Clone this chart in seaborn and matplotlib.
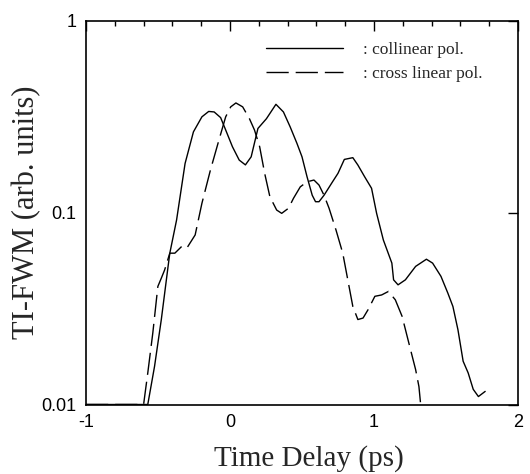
import numpy as np
import pandas as pd
import matplotlib
matplotlib.use("Agg")
import matplotlib.pyplot as plt
import seaborn as sns
from matplotlib.ticker import FixedLocator, MultipleLocator, NullLocator, FixedFormatter

# ---- data ----
collinear_x = [-1.0, -0.571, -0.524, -0.477, -0.430, -0.418, -0.371, -0.312, -0.254, -0.195,
               -0.148, -0.110, -0.065, -0.030, 0.017, 0.064, 0.107, 0.147, 0.194, 0.253,
               0.319, 0.371, 0.418, 0.465, 0.500, 0.535, 0.571, 0.594, 0.618, 0.653,
               0.712, 0.750, 0.794, 0.853, 0.888, 0.935, 0.983, 1.018, 1.065, 1.124,
               1.136, 1.167, 1.218, 1.289, 1.364, 1.407, 1.465, 1.513, 1.548, 1.583,
               1.619, 1.654, 1.689, 1.725, 1.772]
collinear_y = [0.01, 0.01, 0.0158, 0.0277, 0.0524, 0.0614, 0.0914, 0.180, 0.263, 0.315,
               0.336, 0.334, 0.312, 0.269, 0.220, 0.1875, 0.177, 0.195, 0.274, 0.308,
               0.366, 0.334, 0.279, 0.229, 0.195, 0.1535, 0.123, 0.1138, 0.1138, 0.123,
               0.1445, 0.160, 0.189, 0.193, 0.1767, 0.1535, 0.1337, 0.0991, 0.0719, 0.0545,
               0.0446, 0.042, 0.0446, 0.0524, 0.0571, 0.0545, 0.0465, 0.038, 0.0324, 0.0245,
               0.0168, 0.0146, 0.012, 0.011, 0.0117]

cross_x = [-1.0, -0.600, -0.571, -0.536, -0.501, -0.477, -0.454, -0.418, -0.383, -0.336,
           -0.300, -0.242, -0.195, -0.136, -0.077, -0.030, 0.005, 0.041, 0.088, 0.135,
           0.170, 0.206, 0.241, 0.277, 0.324, 0.359, 0.406, 0.441, 0.488, 0.535,
           0.583, 0.618, 0.653, 0.688, 0.736, 0.783, 0.818, 0.853, 0.888, 0.924,
           0.959, 1.006, 1.053, 1.100, 1.148, 1.195, 1.242, 1.289, 1.312, 1.324]
cross_y = [0.01, 0.01, 0.0146, 0.0236, 0.0412, 0.0455, 0.0502, 0.0614, 0.0614, 0.0665,
           0.0652, 0.0764, 0.1117, 0.1663, 0.2382, 0.315, 0.355, 0.372, 0.355, 0.308,
           0.269, 0.220, 0.1596, 0.1208, 0.103, 0.099, 0.1052, 0.1186, 0.136, 0.1445,
           0.1476, 0.139, 0.123, 0.1052, 0.0811, 0.0614, 0.0446, 0.0324, 0.0277, 0.0282,
           0.0312, 0.0366, 0.0372, 0.0388, 0.0351, 0.0288, 0.0209, 0.0152, 0.0124, 0.01]

legend_labels = [": collinear pol.", ": cross linear pol."]
x_ticks = [-1, 0, 1, 2]
y_ticks = [0.01, 0.1, 1]
y_tick_labels = ["0.01", "0.1", "1"]
x_label = "Time Delay (ps)"
y_label = "TI-FWM (arb. units)"

df1 = pd.DataFrame({"x": collinear_x, "y": collinear_y})
df2 = pd.DataFrame({"x": cross_x, "y": cross_y})

sns.set_style("white")
plt.rcParams["font.family"] = ["Liberation Sans", "DejaVu Sans"]

fig = plt.figure(figsize=(5.30, 4.74), dpi=100)
ax = fig.add_axes([86 / 530, 1 - 404.5 / 474, 432 / 530, 384 / 474])

sns.lineplot(data=df1, x="x", y="y", ax=ax, color="black", linewidth=1.0,
             label=legend_labels[0], sort=False)
sns.lineplot(data=df2, x="x", y="y", ax=ax, color="black", linewidth=1.0,
             label=legend_labels[1], sort=False, dashes=False)
ax.lines[1].set_dashes((16, 5))

ax.set_yscale("log")
ax.set_xlim(-1, 2)
ax.set_ylim(0.01, 1)

ax.xaxis.set_major_locator(FixedLocator(x_ticks))
ax.xaxis.set_minor_locator(MultipleLocator(0.2))
ax.set_xticklabels([str(t) for t in x_ticks])
ax.yaxis.set_major_locator(FixedLocator(y_ticks))
ax.yaxis.set_major_formatter(FixedFormatter(y_tick_labels))
ax.yaxis.set_minor_locator(NullLocator())

ax.tick_params(which="both", direction="in", top=True, right=True, colors="black",
               labelsize=13, width=1.0)
ax.tick_params(which="major", length=7, pad=7)
ax.tick_params(which="minor", length=3.5)

for s in ax.spines.values():
    s.set_color("black")
    s.set_linewidth(1.2)

ax.set_xlabel(x_label, family=["Liberation Serif", "DejaVu Serif"], fontsize=21, labelpad=13)
ax.xaxis.set_label_coords(0.516, -0.105, transform=ax.transAxes)
ax.xaxis.label.set_va("top")
ax.set_ylabel(y_label, family=["Liberation Serif", "DejaVu Serif"], fontsize=22, labelpad=0)

leg = ax.legend(loc="upper left", bbox_to_anchor=(0.417, 0.944), frameon=False,
                prop={"family": ["Liberation Serif", "DejaVu Serif"], "size": 12.5},
                handlelength=4.4, handletextpad=1.2, labelspacing=0.45, borderpad=0,
                borderaxespad=0)

fig.savefig("out.png", dpi=100)
